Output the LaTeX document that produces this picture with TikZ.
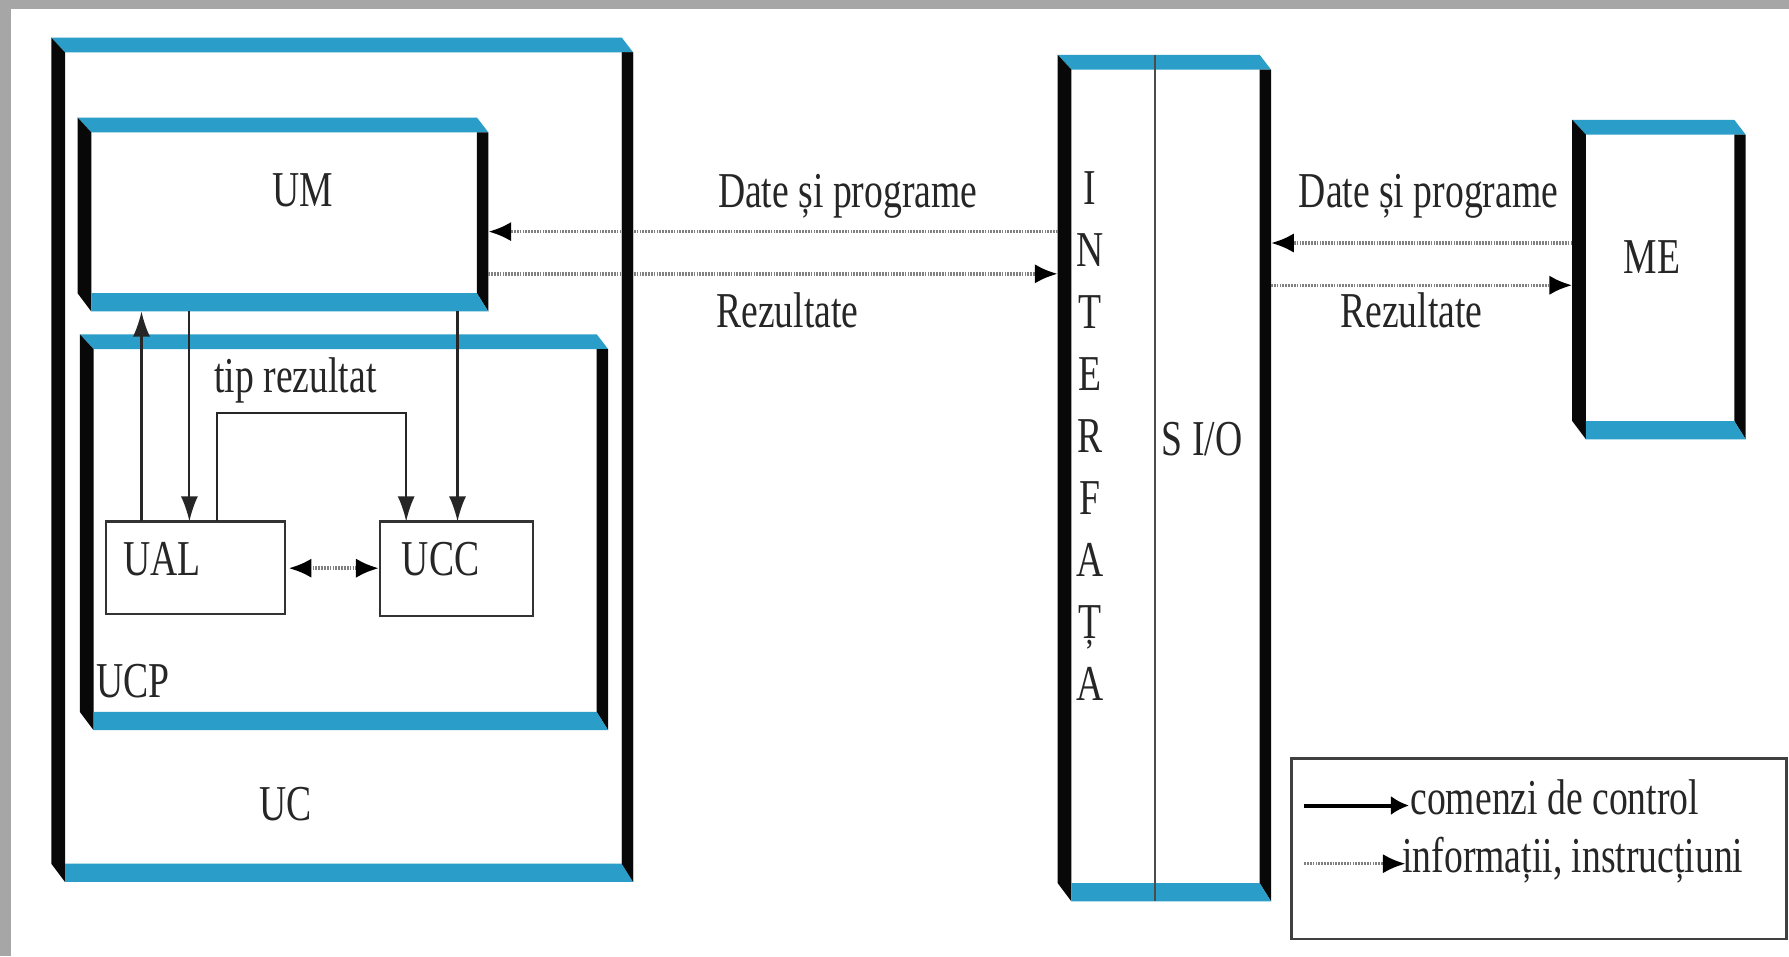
\documentclass[tikz,border=0pt]{standalone}
\usepackage{fontspec}
\setmainfont{Liberation Serif}[FakeStretch=0.75]
\usetikzlibrary{arrows.meta}
\definecolor{bblue}{HTML}{2A9DC8}
\definecolor{bblack}{HTML}{080808}
\definecolor{frameg}{HTML}{A6A6A6}
\def\TB{13}\def\BB{16}\def\LB{12}\def\RB{10}
% name, L, T, R, B
\newcommand{\threedbox}[5]{%
  \fill[bblue] (#2,#3) -- (#4-\RB,#3) -- (#4,#3+\TB) -- (#2+\LB,#3+\TB) -- cycle;
  \fill[bblack] (#2,#3) -- (#2+\LB,#3+\TB) -- (#2+\LB,#5) -- (#2,#5-\BB) -- cycle;
  \fill[bblack] (#4-\RB,#3+\TB) -- (#4,#3+\TB) -- (#4,#5) -- (#4-\RB,#5-\BB) -- cycle;
  \fill[bblue] (#2+\LB,#5-\BB) -- (#4-\RB,#5-\BB) -- (#4,#5) -- (#2+\LB,#5) -- cycle;
  \node[boxarea, minimum width={#4pt-#2pt}, minimum height={#5pt-#3pt}] (#1) at (#2,#3) {};
}
\begin{document}
\begin{tikzpicture}[x=1pt,y=-1pt,
  every node/.style={font=\fontsize{44}{50}\selectfont, inner sep=0pt},
  boxarea/.style={inner sep=0pt,outer sep=0pt,anchor=north west},
  ctrl/.style={draw=black!85, line width=1.8pt, -{Latex[length=22pt,width=15pt]}},
  info/.style={draw=black!50, line width=3pt, dash pattern=on 1.5pt off 1pt, -{Latex[length=20pt,width=17pt,color=black]}},
  infotwo/.style={draw=black!50, line width=3pt, dash pattern=on 1.5pt off 1pt, {Latex[length=20pt,width=17pt,color=black]}-{Latex[length=20pt,width=17pt,color=black]}},
  lbl/.style={anchor=base, text=black!85},
  smallbox/.style={draw=black!80, line width=2pt, inner sep=0pt, outer sep=0pt, anchor=north west}
]
\fill[white] (0,0) rectangle (1568,838);
\useasboundingbox (0,0) rectangle (1568,838);
\fill[frameg] (0,0) rectangle (10,838);
\fill[frameg] (0,0) rectangle (1568,8);

% boxes
\threedbox{UC}{45}{33}{555}{773}
\threedbox{UM}{68}{103}{428}{273}
\threedbox{UCP}{70}{293}{533}{640}
\threedbox{IF}{927}{48}{1114}{790}
\threedbox{ME}{1378}{105}{1530}{385}

\coordinate (ifdiv) at (1012,0);
\draw[black!70, line width=1.5pt] (IF.north -| ifdiv) -- (IF.south -| ifdiv);

\node[smallbox, minimum width=157pt, minimum height=81pt] (UAL) at (93,457) {};
\node[smallbox, minimum width=134pt, minimum height=83pt] (UCC) at (333,457) {};

% labels
\node[lbl] (tUM) at (265,181) {UM};
\node[lbl] (tUC) at (250,719) {UC};
\node[lbl, anchor=base west] (tUCP) at (84,611) {UCP};
\node[lbl, anchor=base west] (tUAL) at (108,504) {UAL};
\node[lbl, anchor=base west] (tUCC) at (352,504) {UCC};
\node[lbl] (tTR) at (259,344) {tip rezultat};
\node[lbl] (tME) at (1448,240) {ME};
\node[lbl, anchor=base west] (tSIO) at (1018,399) {S I/O};
\node[lbl] (tD1) at (743,182) {Date și programe};
\node[lbl] (tR1) at (690,287) {Rezultate};
\node[lbl] (tD2) at (1252,182) {Date și programe};
\node[lbl] (tR2) at (1237,287) {Rezultate};
\foreach \l [count=\i] in {I,N,T,E,R,F,A,Ț,A}
  \node[lbl] (if\i) at (955,{179+54.4*(\i-1)}) {\l};

% info arrows
\coordinate (yA) at (0,203);
\coordinate (yB) at (0,240);
\coordinate (yC) at (0,213);
\coordinate (yD) at (0,250);
\coordinate (yE) at (0,498);
\draw[info] (IF.west |- yA) -- (UM.east |- yA);
\draw[info] (UM.east |- yB) -- (IF.west |- yB);
\draw[info] (ME.west |- yC) -- (IF.east |- yC);
\draw[info] (IF.east |- yD) -- (ME.west |- yD);
\draw[infotwo] ([xshift=3pt]UAL.east |- yE) -- ([xshift=-1pt]UCC.west |- yE);
% UC right edge stays on top of the crossing lines
\fill[bblack] (555-\RB,33+\TB) -- (555,33+\TB) -- (555,773) -- (555-\RB,773-\BB) -- cycle;

% control arrows
\coordinate (x1) at (124,0);
\coordinate (x2) at (166,0);
\coordinate (x3) at (190,0);
\coordinate (x4) at (356,0);
\coordinate (x5) at (401,0);
\coordinate (ytr) at (0,362);
\draw[ctrl] (UAL.north -| x1) -- (UM.south -| x1);
\draw[ctrl] (UM.south -| x2) -- (UAL.north -| x2);
\draw[ctrl] (UAL.north -| x3) -- (x3 |- ytr) -- (x4 |- ytr) -- (UCC.north -| x4);
\draw[ctrl] (UM.south -| x5) -- (UCC.north -| x5);

% legend
\node[draw=black!75, line width=2.5pt, minimum width=434pt, minimum height=158pt, anchor=north west, outer sep=0pt] (LEG) at (1132,665) {};
\coordinate (lgA) at (1143,706);
\coordinate (lgB) at (1235,706);
\coordinate (lgC) at (1143,757);
\coordinate (lgD) at (1232,757);
\draw[black, line width=3.5pt, -{Latex[length=16pt,width=17pt]}] (lgA) -- (lgB);
\node[lbl, anchor=base west] (tL1) at (1236,714) {comenzi de control};
\draw[info] (lgC) -- (lgD);
\node[lbl, anchor=base west] (tL2) at (1229,765) {informații, instrucțiuni};
\end{tikzpicture}
\end{document}
